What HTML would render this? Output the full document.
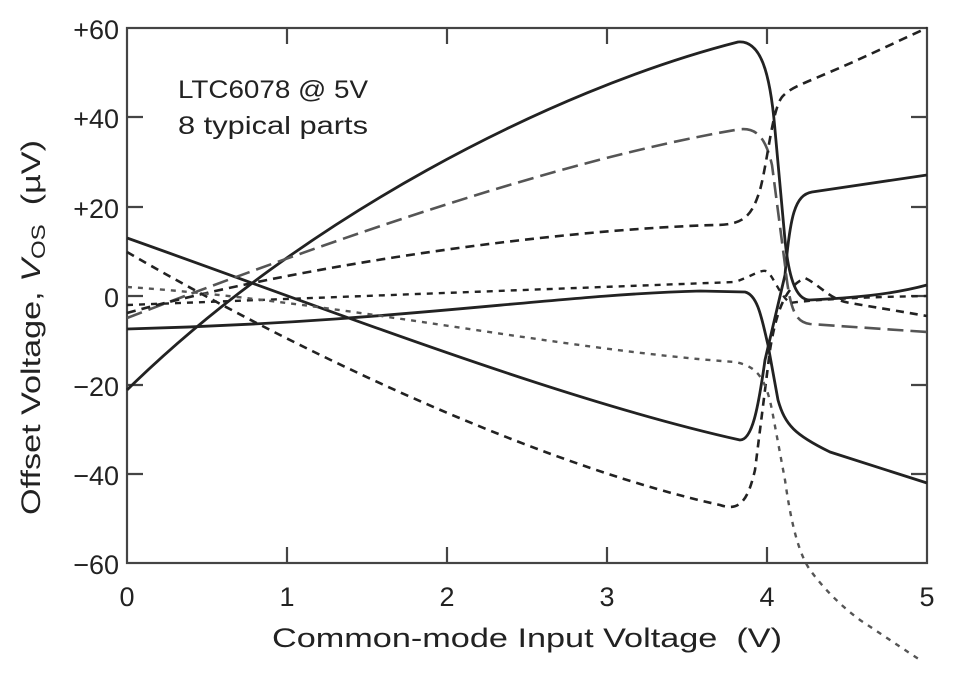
<!DOCTYPE html>
<html><head><meta charset="utf-8"><style>
body{margin:0;background:#fff}
svg text{font-family:"Liberation Sans",sans-serif;fill:#222}
</style></head><body>
<svg width="955" height="675" viewBox="0 0 955 675" xmlns="http://www.w3.org/2000/svg">
<g stroke="#444" stroke-width="2.2" fill="none">
<rect x="127" y="28" width="800" height="535"/>
<path d="M287 28v16M447 28v16M607 28v16M767 28v16M287 563v-16M447 563v-16M607 563v-16M767 563v-16
M127 117h16M127 207h16M127 296h16M127 385h16M127 474h16
M927 117h-16M927 207h-16M927 296h-16M927 385h-16M927 474h-16"/>
</g>
<g font-size="27" text-anchor="end">
<text x="119" y="39">+60</text><text x="119" y="128">+40</text><text x="119" y="218">+20</text>
<text x="119" y="307">0</text><text x="119" y="396">−20</text><text x="119" y="485">−40</text><text x="119" y="574">−60</text>
</g>
<g font-size="27" text-anchor="middle">
<text x="127" y="606">0</text><text x="287" y="606">1</text><text x="447" y="606">2</text><text x="607" y="606">3</text><text x="767" y="606">4</text><text x="927" y="606">5</text>
</g>
<text x="272" y="647" font-size="27" textLength="510" lengthAdjust="spacingAndGlyphs" xml:space="preserve">Common-mode Input Voltage  (V)</text>
<text transform="translate(40,515) rotate(-90)" font-size="27" textLength="375" lengthAdjust="spacingAndGlyphs" xml:space="preserve">Offset Voltage, <tspan font-style="italic">V</tspan><tspan font-size="19" dy="5">OS</tspan><tspan dy="-5">  (µV)</tspan></text>
<text x="178" y="98" font-size="25" textLength="190" lengthAdjust="spacingAndGlyphs">LTC6078 @ 5V</text>
<text x="178" y="134" font-size="25" textLength="190" lengthAdjust="spacingAndGlyphs">8 typical parts</text>
<g fill="none" stroke-linejoin="round" stroke-linecap="butt">
<path stroke="#222" stroke-width="2.8" d="M127 390 C300 220,550 90,738 42 C760 40,770 70,775 130 L785 240 C790 290,800 300,810 300 C850 298,890 295,927 285"/>
<path stroke="#222" stroke-width="2.8" d="M127 329 C400 322,550 295,700 291 L745 292 C758 295,762 320,768 345 L778 400 C785 425,795 435,830 452 L927 483"/>
<path stroke="#222" stroke-width="2.8" d="M127 238 C330 310,560 400,740 440 C752 440,758 410,765 360 L785 275 C790 215,795 195,812 192 L927 175"/>
<path stroke="#555" stroke-width="2.6" stroke-dasharray="16,7" d="M127 318 C330 240,560 160,735 130 C755 126,765 135,772 165 L785 265 C790 310,795 322,810 324 L927 332"/>
<path stroke="#222" stroke-width="2.6" stroke-dasharray="9,6" d="M127 313 C300 265,550 230,715 225 C745 225,752 215,760 190 C768 160,772 110,782 97 C790 88,800 85,830 72 C870 55,900 40,927 28"/>
<path stroke="#222" stroke-width="2.6" stroke-dasharray="8,6" d="M127 252 C330 370,560 470,720 505 C740 512,748 500,755 470 L770 350 C778 300,790 285,805 278 C820 285,830 300,850 303 L927 316"/>
<path stroke="#222" stroke-width="2.4" stroke-dasharray="6,6" d="M127 305 L735 282 C755 275,762 268,768 272 C775 280,780 295,790 303 C810 300,860 297,927 296"/>
<path stroke="#555" stroke-width="2.4" stroke-dasharray="5,6" d="M127 287 C330 300,560 350,735 362 C755 366,765 375,772 410 L785 480 C792 530,800 555,810 570 C825 590,840 605,860 620 L920 660"/>
</g>
</svg>
</body></html>
